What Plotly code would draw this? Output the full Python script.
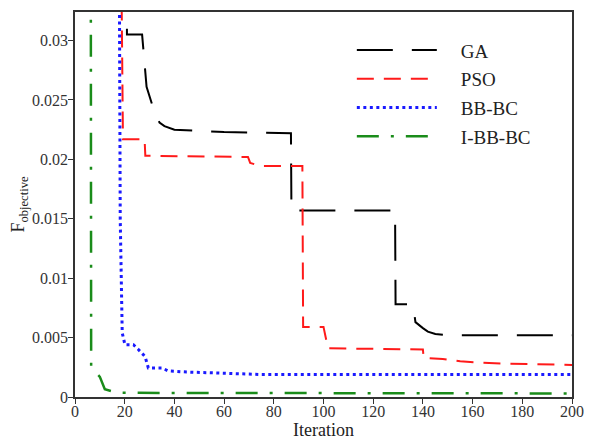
import plotly.graph_objects as go

# values (iteration, objective)
ga_iter = [1, 20.8, 20.9, 27.0, 28.8, 30.5, 31.5, 32.5, 34.0, 36.0, 40, 50, 60, 86.9, 87.1,
           128.8, 129.0, 136.0, 137.0, 140.0, 142.0, 145.0, 150.0, 200]
ga_val = [0.05, 0.05, 0.0305, 0.0305, 0.0261, 0.0249, 0.0243, 0.0238, 0.0231, 0.0228, 0.0225,
          0.0224, 0.0223, 0.0222, 0.0157, 0.0157, 0.0078, 0.0078, 0.0063, 0.0058, 0.0055,
          0.0053, 0.0052, 0.0052]

pso_iter = [1, 18.0, 19.3, 28.0, 28.3, 69.6, 70.5, 74.4, 91.5, 91.8, 100.0, 101.8, 140.0, 140.3,
            148, 155, 163, 174, 200]
pso_val = [0.05, 0.05, 0.0217, 0.0217, 0.0203, 0.0202, 0.0197, 0.01945, 0.01945, 0.0059,
           0.0059, 0.0041, 0.0040, 0.0033, 0.0032, 0.0030, 0.0029, 0.0028, 0.0027]

bb_iter = [1, 17.6, 18.2, 19.0, 20.1, 23.5, 25.5, 28.2, 29.5, 34.9, 37.5, 45, 60, 74, 200]
bb_val = [0.05, 0.05, 0.0150, 0.0054, 0.0044, 0.0044, 0.0040, 0.0034, 0.00245, 0.00245,
          0.0022, 0.0021, 0.0020, 0.0019, 0.0019]

ibb_iter = [1, 6.3, 6.5, 7.0, 10.0, 12.0, 17.3, 200]
ibb_val = [0.05, 0.05, 0.0026, 0.0024, 0.0017, 0.00065, 0.00035, 0.0003]

names = ["GA", "PSO", "BB-BC", "I-BB-BC"]
colors = ["#000000", "#ff1a1a", "#1a1aff", "#1a8c1a"]
dashes = ["36px,19px", "17px,10px", "3px,3.5px", "22px,12px,3px,12px"]
widths = [2, 2, 3, 2.5]

fig = go.Figure()
for i, (xs, ys) in enumerate([(ga_iter, ga_val), (pso_iter, pso_val),
                               (bb_iter, bb_val), (ibb_iter, ibb_val)]):
    fig.add_trace(go.Scatter(
        x=xs, y=ys, mode="lines", name="&nbsp;&nbsp;&nbsp;&nbsp;" + names[i],
        legendgroup=names[i],
        line=dict(color=colors[i], dash=dashes[i], width=widths[i]),
    ))

serif = "Liberation Serif, Times New Roman, serif"
axis_style = dict(
    showline=True, linecolor="#333333", linewidth=1.5, mirror=True, automargin=False,
    ticks="outside", ticklen=5, tickcolor="#333333", showgrid=False, zeroline=False,
    tickfont=dict(family=serif, size=16, color="#333333"),
)

# the page body adds an 8px offset, so margins are shifted to compensate
fig.update_layout(
    width=592, height=439,
    margin=dict(l=67, r=28, t=4, b=50),
    paper_bgcolor="white", plot_bgcolor="white",
    font=dict(family=serif, color="#222222"),
    showlegend=True,
    legend=dict(x=0.557, y=0.95, xanchor="left", yanchor="top",
                bgcolor="rgba(0,0,0,0)", itemwidth=80, traceorder="grouped",
                tracegroupgap=1, font=dict(family=serif, size=19)),
    xaxis=dict(range=[0, 200], dtick=20, ticklabelstandoff=-6,
               title=dict(text="Iteration", standoff=2,
                          font=dict(family=serif, size=18)),
               **axis_style),
    yaxis=dict(range=[0, 0.0324], dtick=0.005, ticklabelstandoff=-3,
               title=dict(text="F<sub>objective</sub>", standoff=8,
                          font=dict(family=serif, size=18)),
               **axis_style),
)

fig.write_html("out.html")
